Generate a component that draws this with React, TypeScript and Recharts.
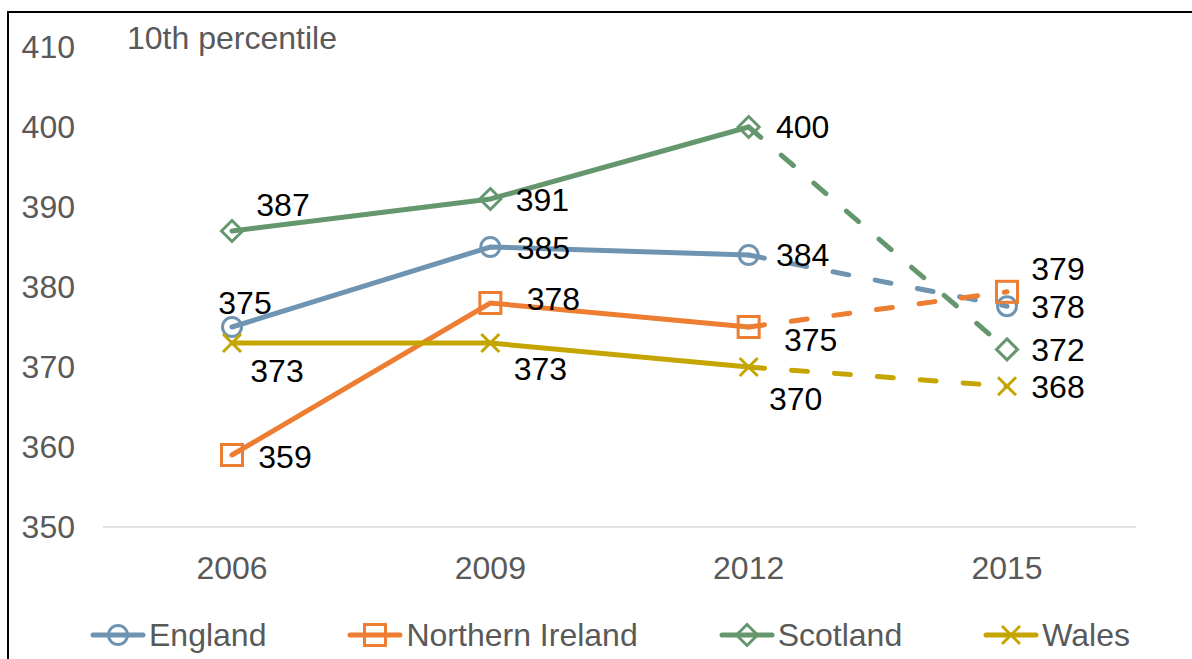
import React from 'react';
import { LineChart, Line, XAxis, YAxis, LabelList } from 'recharts';

// ---- data ----
const years = ['2006', '2009', '2012', '2015'];
const england = [375, 385, 384, 377.6];
const northernIreland = [359, 378, 375, 379.4];
const scotland = [387, 391, 400, 372.2];
const wales = [373, 373, 370, 367.6];
const yTicks = [350, 360, 370, 380, 390, 400, 410];
const projectedFrom = 2; // dashed projection from 2012 to 2015
const chartNote = '10th percentile';

const FONT = '"Liberation Sans", Arial, sans-serif';
const FS = 32;

type Shape = 'circle' | 'square' | 'diamond' | 'x';

interface SeriesDef {
  key: string;
  name: string;
  values: number[];
  color: string;
  shape: Shape;
  labelOffsets: number[][];
}

const series: SeriesDef[] = [
  { key: 'england', name: 'England', values: england, color: '#6F94B1', shape: 'circle', labelOffsets: [[13, -24], [53, 1], [54, 0], [51, 0]] },
  { key: 'ni', name: 'Northern Ireland', values: northernIreland, color: '#ED7D31', shape: 'square', labelOffsets: [[53, 2], [63, -4], [62, 13], [51, -23]] },
  { key: 'scotland', name: 'Scotland', values: scotland, color: '#65976F', shape: 'diamond', labelOffsets: [[51, -26], [52, 1], [54, 0], [51, 0]] },
  { key: 'wales', name: 'Wales', values: wales, color: '#C5A500', shape: 'x', labelOffsets: [[45, 28], [50, 26], [47, 32], [51, 0]] },
];

const data = years.map((year, i) => {
  const row: Record<string, any> = { year };
  series.forEach((s) => {
    row[s.key] = i <= projectedFrom ? s.values[i] : null;
    row[s.key + 'Proj'] = i >= projectedFrom ? s.values[i] : null;
  });
  return row;
});

function Marker({ shape, cx, cy, color }: { shape: Shape; cx: number; cy: number; color: string }) {
  const sw = 3;
  if (shape === 'circle') return <circle cx={cx} cy={cy} r={9.5} fill="none" stroke={color} strokeWidth={sw} />;
  if (shape === 'square') return <rect x={cx - 10.5} y={cy - 10.5} width={21} height={21} fill="none" stroke={color} strokeWidth={sw} />;
  if (shape === 'diamond') {
    const d = 10.5;
    return <polygon points={`${cx},${cy - d} ${cx + d},${cy} ${cx},${cy + d} ${cx - d},${cy}`} fill="none" stroke={color} strokeWidth={sw} />;
  }
  const h = 9;
  return (
    <g stroke={color} strokeWidth={sw}>
      <line x1={cx - h} y1={cy - h} x2={cx + h} y2={cy + h} />
      <line x1={cx - h} y1={cy + h} x2={cx + h} y2={cy - h} />
    </g>
  );
}

function makeDot(s: SeriesDef, onlyIndex?: number) {
  return (p: any) => {
    const k = `${s.key}-${onlyIndex ?? 's'}-${p.index}`;
    if (p.value == null || p.cy == null || (onlyIndex !== undefined && p.index !== onlyIndex)) return <g key={k} />;
    return (
      <g key={k}>
        <Marker shape={s.shape} cx={p.cx} cy={p.cy} color={s.color} />
      </g>
    );
  };
}

function makeLabel(s: SeriesDef, onlyIndex?: number) {
  return (p: any) => {
    const { value, index } = p;
    const x = p.x ?? p.viewBox?.x;
    const y = p.y ?? p.viewBox?.y;
    if (value == null || x == null || y == null) return null;
    if (onlyIndex !== undefined && index !== onlyIndex) return null;
    const [dx, dy] = s.labelOffsets[index];
    return (
      <text x={x + dx} y={y + dy + FS * 0.358} textAnchor="middle" fontFamily={FONT} fontSize={FS} fill="#000">
        {Math.round(value)}
      </text>
    );
  };
}

function Legend() {
  return (
    <div style={{ position: 'absolute', left: 90, top: 619, display: 'flex', gap: 81, alignItems: 'center', fontFamily: FONT, fontSize: FS, color: '#595959', lineHeight: '32px', whiteSpace: 'nowrap' }}>
      {series.map((s) => (
        <div key={s.key} style={{ display: 'flex', alignItems: 'center' }}>
          <svg width={56} height={32} style={{ display: 'block' }}>
            <line x1={3} y1={16} x2={53} y2={16} stroke={s.color} strokeWidth={5} strokeLinecap="round" />
            <Marker shape={s.shape} cx={28} cy={16} color={s.color} />
          </svg>
          <span style={{ marginLeft: 3 }}>{s.name}</span>
        </div>
      ))}
    </div>
  );
}

export default function App() {
  return (
    <div style={{ position: 'absolute', left: 0, top: 0, width: 1192, height: 659, overflow: 'hidden', background: '#fff' }}>
      <div style={{ position: 'absolute', left: 7, top: 11, width: 1300, height: 800, borderTop: '2px solid #000', borderLeft: '2px solid #000' }} />
      <LineChart width={1192} height={659} data={data} margin={{ top: 47, right: 56, bottom: 102, left: 43 }} style={{ position: 'absolute', left: 0, top: 0 }}>
        <XAxis
          dataKey="year"
          height={30}
          padding={{ left: 129, right: 129 }}
          axisLine={{ stroke: '#D9D9D9', strokeWidth: 1.5 }}
          tickLine={false}
          tickSize={0}
          tickMargin={29}
          tick={{ fill: '#595959', fontSize: FS, fontFamily: FONT }}
        />
        <YAxis
          domain={[350, 410]}
          ticks={yTicks}
          width={60}
          axisLine={false}
          tickLine={false}
          tickSize={0}
          tickMargin={28}
          tick={{ fill: '#595959', fontSize: FS, fontFamily: FONT }}
          interval={0}
        />
        {series.map((s) => (
          <Line
            key={s.key + 'Proj'}
            dataKey={s.key + 'Proj'}
            stroke={s.color}
            strokeWidth={5}
            strokeDasharray="16 27"
            strokeLinecap="round"
            dot={makeDot(s, 3)}
            activeDot={false}
            isAnimationActive={false}
          >
            <LabelList dataKey={s.key + 'Proj'} content={makeLabel(s, 3)} />
          </Line>
        ))}
        {series.map((s) => (
          <Line
            key={s.key}
            dataKey={s.key}
            stroke={s.color}
            strokeWidth={5}
            strokeLinecap="round"
            dot={makeDot(s)}
            activeDot={false}
            isAnimationActive={false}
          >
            <LabelList dataKey={s.key} content={makeLabel(s)} />
          </Line>
        ))}
      </LineChart>
      <svg width={1192} height={659} style={{ position: 'absolute', left: 0, top: 0, pointerEvents: 'none' }}>
        <text x={127} y={38 + FS * 0.358} fontFamily={FONT} fontSize={FS} fill="#595959">{chartNote}</text>
      </svg>
      <Legend />
    </div>
  );
}
